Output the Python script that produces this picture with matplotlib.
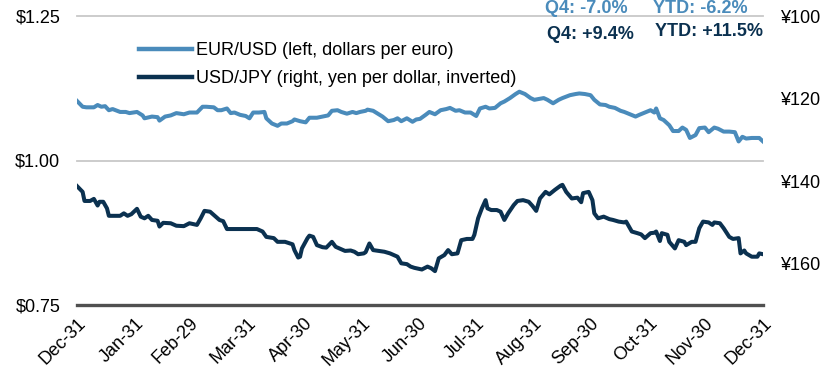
import matplotlib
matplotlib.use("Agg")
import matplotlib.pyplot as plt
import matplotlib.dates as mdates
import matplotlib.ticker as mticker
import pandas as pd

plt.rcParams['font.family'] = ['Liberation Sans', 'DejaVu Sans']

# EUR/USD, dollars per euro (left axis)
eur_dates = [
    "2023-12-31", "2024-01-03", "2024-01-05", "2024-01-09", "2024-01-11", "2024-01-13",
    "2024-01-15", "2024-01-17", "2024-01-19", "2024-01-23", "2024-01-26", "2024-01-28",
    "2024-02-01", "2024-02-04", "2024-02-05", "2024-02-09", "2024-02-12", "2024-02-13",
    "2024-02-16", "2024-02-19", "2024-02-22", "2024-02-26", "2024-02-29", "2024-03-04",
    "2024-03-07", "2024-03-09", "2024-03-13", "2024-03-15", "2024-03-17", "2024-03-20",
    "2024-03-22", "2024-03-24", "2024-03-27", "2024-03-30", "2024-04-01", "2024-04-03",
    "2024-04-06", "2024-04-09", "2024-04-10", "2024-04-13", "2024-04-16", "2024-04-18",
    "2024-04-21", "2024-04-24", "2024-04-25", "2024-04-28", "2024-05-01", "2024-05-03",
    "2024-05-07", "2024-05-10", "2024-05-13", "2024-05-15", "2024-05-18", "2024-05-20",
    "2024-05-23", "2024-05-26", "2024-05-28", "2024-05-30", "2024-06-02", "2024-06-03",
    "2024-06-06", "2024-06-09", "2024-06-11", "2024-06-14", "2024-06-17", "2024-06-19",
    "2024-06-21", "2024-06-24", "2024-06-27", "2024-06-29", "2024-07-01", "2024-07-04",
    "2024-07-06", "2024-07-09", "2024-07-12", "2024-07-15", "2024-07-17", "2024-07-20",
    "2024-07-22", "2024-07-25", "2024-07-28", "2024-07-31", "2024-08-02", "2024-08-05",
    "2024-08-07", "2024-08-10", "2024-08-13", "2024-08-15", "2024-08-18", "2024-08-21",
    "2024-08-23", "2024-08-26", "2024-08-29", "2024-08-31", "2024-09-05", "2024-09-07",
    "2024-09-10", "2024-09-13", "2024-09-15", "2024-09-19", "2024-09-22", "2024-09-24",
    "2024-09-27", "2024-09-30", "2024-10-02", "2024-10-05", "2024-10-08", "2024-10-10",
    "2024-10-13", "2024-10-16", "2024-10-18", "2024-10-21", "2024-10-24", "2024-10-26",
    "2024-10-29", "2024-11-01", "2024-11-03", "2024-11-04", "2024-11-06", "2024-11-08",
    "2024-11-11", "2024-11-13", "2024-11-16", "2024-11-18", "2024-11-20", "2024-11-22",
    "2024-11-25", "2024-11-27", "2024-11-30", "2024-12-02", "2024-12-05", "2024-12-07",
    "2024-12-10", "2024-12-13", "2024-12-16", "2024-12-18", "2024-12-20", "2024-12-22",
    "2024-12-25", "2024-12-29", "2024-12-31",
]
eur_usd = [
    1.103, 1.093, 1.092, 1.092, 1.096, 1.093,
    1.094, 1.087, 1.089, 1.084, 1.084, 1.082,
    1.084, 1.078, 1.073, 1.076, 1.075, 1.069,
    1.076, 1.078, 1.082, 1.080, 1.083, 1.083,
    1.093, 1.093, 1.092, 1.087, 1.087, 1.090,
    1.082, 1.083, 1.079, 1.077, 1.073, 1.083,
    1.083, 1.084, 1.073, 1.064, 1.060, 1.064,
    1.064, 1.068, 1.071, 1.068, 1.066, 1.074,
    1.074, 1.076, 1.078, 1.086, 1.087, 1.084,
    1.081, 1.084, 1.082, 1.084, 1.086, 1.088,
    1.086, 1.080, 1.076, 1.068, 1.070, 1.073,
    1.068, 1.073, 1.067, 1.071, 1.072, 1.079,
    1.084, 1.080, 1.087, 1.089, 1.091, 1.086,
    1.087, 1.083, 1.083, 1.077, 1.090, 1.093,
    1.090, 1.091, 1.099, 1.102, 1.108, 1.115,
    1.119, 1.115, 1.108, 1.105, 1.108, 1.105,
    1.099, 1.105, 1.108, 1.113, 1.115, 1.116,
    1.115, 1.113, 1.105, 1.097, 1.096, 1.093,
    1.091, 1.086, 1.084, 1.080, 1.076, 1.079,
    1.083, 1.087, 1.083, 1.090, 1.073, 1.070,
    1.061, 1.051, 1.051, 1.057, 1.053, 1.039,
    1.044, 1.056, 1.057, 1.049, 1.057, 1.055,
    1.050, 1.050, 1.049, 1.033, 1.041, 1.038,
    1.039, 1.039, 1.033,
]

# USD/JPY, yen per dollar (right axis, inverted)
jpy_dates = [
    "2023-12-31", "2024-01-03", "2024-01-04", "2024-01-07", "2024-01-09", "2024-01-11",
    "2024-01-12", "2024-01-14", "2024-01-16", "2024-01-17", "2024-01-20", "2024-01-23",
    "2024-01-25", "2024-01-27", "2024-01-29", "2024-02-01", "2024-02-03", "2024-02-05",
    "2024-02-07", "2024-02-09", "2024-02-12", "2024-02-13", "2024-02-15", "2024-02-19",
    "2024-02-22", "2024-02-26", "2024-02-29", "2024-03-04", "2024-03-06", "2024-03-08",
    "2024-03-11", "2024-03-14", "2024-03-16", "2024-03-18", "2024-03-20", "2024-03-23",
    "2024-03-26", "2024-03-30", "2024-04-02", "2024-04-05", "2024-04-08", "2024-04-10",
    "2024-04-14", "2024-04-16", "2024-04-20", "2024-04-24", "2024-04-25", "2024-04-27",
    "2024-04-28", "2024-04-29", "2024-05-02", "2024-05-03", "2024-05-05", "2024-05-07",
    "2024-05-10", "2024-05-12", "2024-05-15", "2024-05-17", "2024-05-19", "2024-05-22",
    "2024-05-25", "2024-05-27", "2024-05-29", "2024-06-01", "2024-06-02", "2024-06-04",
    "2024-06-06", "2024-06-09", "2024-06-12", "2024-06-15", "2024-06-19", "2024-06-21",
    "2024-06-24", "2024-06-26", "2024-06-28", "2024-07-02", "2024-07-05", "2024-07-07",
    "2024-07-09", "2024-07-11", "2024-07-14", "2024-07-16", "2024-07-18", "2024-07-21",
    "2024-07-23", "2024-07-26", "2024-07-29", "2024-07-30", "2024-08-01", "2024-08-03",
    "2024-08-05", "2024-08-06", "2024-08-08", "2024-08-11", "2024-08-13", "2024-08-15",
    "2024-08-17", "2024-08-20", "2024-08-22", "2024-08-25", "2024-08-28", "2024-08-30",
    "2024-09-01", "2024-09-03", "2024-09-06", "2024-09-08", "2024-09-11", "2024-09-14",
    "2024-09-15", "2024-09-17", "2024-09-20", "2024-09-23", "2024-09-25", "2024-09-26",
    "2024-09-29", "2024-10-01", "2024-10-02", "2024-10-04", "2024-10-07", "2024-10-10",
    "2024-10-12", "2024-10-15", "2024-10-18", "2024-10-19", "2024-10-22", "2024-10-25",
    "2024-10-27", "2024-10-29", "2024-11-01", "2024-11-03", "2024-11-04", "2024-11-06",
    "2024-11-07", "2024-11-10", "2024-11-11", "2024-11-14", "2024-11-16", "2024-11-19",
    "2024-11-20", "2024-11-23", "2024-11-25", "2024-11-27", "2024-11-29", "2024-12-02",
    "2024-12-04", "2024-12-05", "2024-12-08", "2024-12-10", "2024-12-13", "2024-12-15",
    "2024-12-18", "2024-12-19", "2024-12-21", "2024-12-22", "2024-12-25", "2024-12-28",
    "2024-12-29", "2024-12-31",
]
usd_jpy = [
    141.2, 142.6, 144.8, 144.8, 144.3, 145.9,
    145.0, 145.0, 146.6, 148.4, 148.4, 148.4,
    147.8, 148.4, 148.0, 146.7, 148.6, 149.0,
    148.4, 149.4, 149.6, 151.0, 150.1, 150.2,
    150.8, 150.9, 150.2, 150.6, 149.0, 147.2,
    147.4, 148.6, 149.4, 149.7, 151.6, 151.6,
    151.6, 151.6, 151.6, 151.6, 152.2, 153.5,
    153.8, 154.7, 154.7, 155.3, 156.7, 158.5,
    158.3, 156.3, 153.8, 153.2, 153.5, 155.5,
    156.0, 156.1, 154.7, 155.9, 156.3, 156.9,
    156.8, 157.1, 157.7, 157.5, 157.2, 155.1,
    156.7, 156.9, 157.1, 157.5, 158.3, 159.9,
    160.1, 160.7, 161.0, 161.4, 160.7, 161.1,
    161.8, 158.7, 157.9, 156.7, 157.7, 157.5,
    154.3, 154.0, 154.0, 153.0, 149.0, 146.6,
    144.6, 146.6, 147.0, 147.0, 147.4, 149.4,
    147.8, 145.8, 144.8, 144.6, 145.0, 146.0,
    147.2, 144.2, 142.6, 143.2, 142.1, 141.1,
    140.9, 142.6, 144.2, 144.0, 145.1, 142.9,
    142.6, 144.6, 147.8, 149.0, 148.6, 149.2,
    149.4, 149.8, 150.0, 149.8, 152.2, 152.6,
    152.9, 153.8, 152.6, 152.5, 152.2, 154.5,
    152.6, 153.0, 154.7, 156.3, 154.3, 154.7,
    155.5, 154.7, 154.7, 151.4, 149.8, 150.0,
    150.6, 150.0, 150.2, 151.4, 153.5, 154.0,
    153.8, 157.5, 156.8, 157.5, 158.3, 158.3,
    157.5, 157.7,
]

month_ends = ["2023-12-31", "2024-01-31", "2024-02-29", "2024-03-31", "2024-04-30",
              "2024-05-31", "2024-06-30", "2024-07-31", "2024-08-31", "2024-09-30",
              "2024-10-31", "2024-11-30", "2024-12-31"]

eur_labels = ["Q4: -7.0%", "YTD: -6.2%"]
jpy_labels = ["Q4: +9.4%", "YTD: +11.5%"]

light_blue = "#4a8bbb"
navy = "#0b3150"

fig = plt.figure(figsize=(8.38, 3.70), dpi=100)
ax = fig.add_axes([77 / 838, 1 - 305 / 370, 686 / 838, 289 / 370])
ax2 = ax.twinx()

ax.plot(pd.to_datetime(eur_dates), eur_usd, color=light_blue, lw=2.9,
        solid_joinstyle="round", label="EUR/USD (left, dollars per euro)", zorder=3)
ax2.plot(pd.to_datetime(jpy_dates), usd_jpy, color=navy, lw=2.9,
         solid_joinstyle="round", label="USD/JPY (right, yen per dollar, inverted)", zorder=3)

ax.set_xlim(pd.Timestamp("2023-12-31"), pd.Timestamp("2024-12-31"))
ax.set_ylim(0.75, 1.25)
ax.set_yticks([0.75, 1.00, 1.25])
ax.yaxis.set_major_formatter(mticker.FuncFormatter(lambda v, p: f"${v:.2f}"))
ax2.set_ylim(170, 100)
ax2.set_yticks([100, 120, 140, 160])
ax2.yaxis.set_major_formatter(mticker.FuncFormatter(lambda v, p: f"¥{v:.0f}"))

ax.set_xticks(pd.to_datetime(month_ends))
ax.xaxis.set_major_formatter(mdates.DateFormatter("%b-%d"))
for lbl in ax.get_xticklabels():
    lbl.set_rotation(45)
    lbl.set_ha("right")
    lbl.set_rotation_mode("anchor")

ax.tick_params(axis="x", length=0, pad=7, labelsize=13)
ax.tick_params(axis="y", length=0, pad=12, labelsize=13)
ax2.tick_params(axis="y", length=0, pad=12, labelsize=13)

# light gridlines at $1.00 and $1.25, darker baseline at $0.75
for a in (ax, ax2):
    for s in a.spines.values():
        s.set_visible(False)
for v in (1.00, 1.25):
    ax.axhline(v, color="#c8c8c8", lw=1.3, zorder=1, clip_on=False)
ax.axhline(0.75, color="#505050", lw=2.4, zorder=2, clip_on=False)

h1, l1 = ax.get_legend_handles_labels()
h2, l2 = ax2.get_legend_handles_labels()
leg = ax2.legend(h1 + h2, l1 + l2, loc="upper left", bbox_to_anchor=(0.091, 0.91),
                 frameon=False, fontsize=13, handlelength=2.9, handletextpad=0.25,
                 labelspacing=0.6, borderpad=0, borderaxespad=0)
for line in leg.get_lines():
    line.set_linewidth(3.2)

# quarter / year-to-date changes in the top right corner
fig.text(545 / 838, 1 - 13 / 370, eur_labels[0], color=light_blue, fontsize=13,
         fontweight="bold", va="baseline")
fig.text(653 / 838, 1 - 13 / 370, eur_labels[1], color=light_blue, fontsize=13,
         fontweight="bold", va="baseline")
fig.text(547 / 838, 1 - 39 / 370, jpy_labels[0], color=navy, fontsize=13,
         fontweight="bold", va="baseline")
fig.text(655 / 838, 1 - 36 / 370, jpy_labels[1], color=navy, fontsize=13,
         fontweight="bold", va="baseline")

fig.savefig("out.png", dpi=100)
